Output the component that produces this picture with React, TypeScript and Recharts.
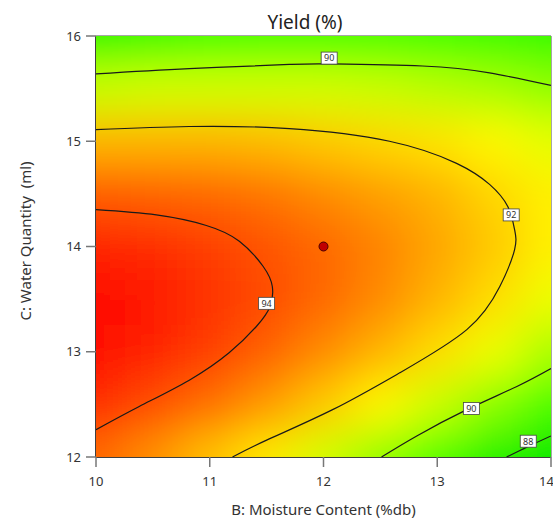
import React from 'react';
import { ComposedChart, XAxis, YAxis, Scatter, ReferenceLine } from 'recharts';

const FONT = '"Noto Sans", "DejaVu Sans", sans-serif';

// grid of the response surface (rows: C from 16 down to 12)
const B_VALUES = [10, 10.5, 11, 11.5, 12, 12.5, 13, 13.5, 14];
const C_VALUES = [16, 15.5, 15, 14.5, 14, 13.5, 13, 12.5, 12];
const YIELD_GRID = [
  [88.5, 88.7, 88.9, 89.0, 89.0, 89.0, 88.9, 88.8, 88.7],
  [90.7, 90.8, 90.8, 90.8, 90.8, 90.7, 90.5, 90.3, 90.0],
  [92.4, 92.4, 92.4, 92.3, 92.1, 91.9, 91.7, 91.4, 91.0],
  [93.7, 93.6, 93.5, 93.3, 93.0, 92.7, 92.4, 91.9, 91.5],
  [94.5, 94.4, 94.1, 93.8, 93.5, 93.1, 92.6, 92.1, 91.5],
  [94.9, 94.7, 94.3, 93.9, 93.5, 93.0, 92.4, 91.8, 91.1],
  [94.9, 94.5, 94.1, 93.6, 93.0, 92.4, 91.8, 91.1, 90.3],
  [94.4, 93.9, 93.4, 92.8, 92.1, 91.4, 90.7, 89.9, 89.0],
  [93.5, 92.9, 92.2, 91.6, 90.8, 90.0, 89.1, 88.2, 87.3],
];

// contour lines
const CONTOUR_94 = [
  { b: 10, c: 14.35 }, { b: 10.53, c: 14.3 }, { b: 10.97, c: 14.2 }, { b: 11.26, c: 14.05 },
  { b: 11.47, c: 13.81 }, { b: 11.55, c: 13.62 }, { b: 11.53, c: 13.43 }, { b: 11.41, c: 13.24 },
  { b: 11.17, c: 12.99 }, { b: 10.82, c: 12.73 }, { b: 10.38, c: 12.48 }, { b: 10, c: 12.26 },
];
const CONTOUR_92 = [
  { b: 10, c: 15.11 }, { b: 10.82, c: 15.14 }, { b: 11.7, c: 15.12 }, { b: 12.58, c: 15.0 },
  { b: 13.17, c: 14.79 }, { b: 13.46, c: 14.59 }, { b: 13.62, c: 14.38 }, { b: 13.68, c: 14.16 },
  { b: 13.68, c: 13.97 }, { b: 13.55, c: 13.62 }, { b: 13.26, c: 13.21 }, { b: 12.67, c: 12.8 },
  { b: 12.08, c: 12.45 }, { b: 11.5, c: 12.16 }, { b: 11.2, c: 12 },
];
const CONTOUR_90_TOP = [
  { b: 10, c: 15.64 }, { b: 10.82, c: 15.69 }, { b: 11.7, c: 15.73 }, { b: 12.05, c: 15.735 },
  { b: 12.87, c: 15.715 }, { b: 13.46, c: 15.65 }, { b: 14, c: 15.53 },
];
const CONTOUR_90_LOW = [
  { b: 12.51, c: 12 }, { b: 12.82, c: 12.2 }, { b: 13.26, c: 12.45 }, { b: 13.7, c: 12.67 }, { b: 14, c: 12.84 },
];
const CONTOUR_88 = [{ b: 13.61, c: 12 }, { b: 13.8, c: 12.1 }, { b: 14, c: 12.2 }];

const CONTOUR_LABELS = [
  { b: 12.05, c: 15.79, level: 90 },
  { b: 13.65, c: 14.3, level: 92 },
  { b: 11.5, c: 13.46, level: 94 },
  { b: 13.3, c: 12.46, level: 90 },
  { b: 13.8, c: 12.15, level: 88 },
];

const DESIGN_POINT = [{ b: 12, c: 14 }];

const B_TICKS = [10, 11, 12, 13, 14];
const C_TICKS = [12, 13, 14, 15, 16];

const PLOT = { left: 96, top: 36, width: 455, height: 421 };
const CELL_W = PLOT.width / 8;
const CELL_H = PLOT.height / 8;
const EXT = 70;

const heatData = C_VALUES.flatMap((c, i) => B_VALUES.map((b, j) => ({ b, c, y: YIELD_GRID[i][j] })));

// green -> yellow -> red
function yieldColor(v: number) {
  const lo = 87.7;
  const mid = 91.3;
  const hi = 95;
  let r = 255;
  let g = 255;
  if (v >= mid) {
    g = Math.round(255 * Math.max(0, Math.min(1, (hi - v) / (hi - mid))));
  } else {
    const t = Math.max(0, Math.min(1, (v - lo) / (mid - lo)));
    r = Math.round(255 * Math.pow(t, 1.3));
    g = Math.round(232 + 23 * Math.min(1, t * 3));
  }
  return `rgb(${r},${g},0)`;
}

const HeatCell = (props: any) => {
  const { cx, cy, payload } = props;
  let x0 = cx - CELL_W / 2;
  let x1 = cx + CELL_W / 2;
  let y0 = cy - CELL_H / 2;
  let y1 = cy + CELL_H / 2;
  if (payload.b === 10) x0 -= EXT;
  if (payload.b === 14) x1 += EXT;
  if (payload.c === 16) y0 -= EXT;
  if (payload.c === 12) y1 += EXT;
  return <rect x={x0} y={y0} width={x1 - x0 + 0.5} height={y1 - y0 + 0.5} fill={yieldColor(payload.y)} />;
};

const NoMark = () => <g />;

const LevelLabel = (props: any) => {
  const { cx, cy, payload } = props;
  return (
    <g>
      <rect x={cx - 8} y={cy - 6} width={16} height={12} fill="#fff" stroke="#444" strokeWidth={0.8} />
      <text x={cx} y={cy + 3.3} textAnchor="middle" fontSize={9} fontFamily={FONT} fill="#333">
        {payload.level}
      </text>
    </g>
  );
};

const PointDot = (props: any) => (
  <circle cx={props.cx} cy={props.cy} r={4.5} fill="#c00000" stroke="#4a0000" strokeWidth={1} />
);

const YTitle = () => (
  <text x={30.7} y={241} transform="rotate(-90 30.7 241)" textAnchor="middle" fontSize={15} fontFamily={FONT} fill="#333">
    C: Water Quantity {'\u00a0'}(ml)
  </text>
);

const contours = [CONTOUR_94, CONTOUR_92, CONTOUR_90_TOP, CONTOUR_90_LOW, CONTOUR_88];

export default function App() {
  return (
    <div style={{ position: 'relative', width: 553, height: 520, fontFamily: FONT }}>
      <style>{`body{margin:0} .heat-layer{filter:url(#heatBlur);clip-path:url(#plotClip);}`}</style>
      <svg width={0} height={0} style={{ position: 'absolute' }}>
        <defs>
          <filter id="heatBlur" filterUnits="userSpaceOnUse" x={-200} y={-200} width={1000} height={1000}>
            <feGaussianBlur stdDeviation={22} />
          </filter>
          <clipPath id="plotClip">
            <rect x={PLOT.left} y={PLOT.top} width={PLOT.width} height={PLOT.height} />
          </clipPath>
        </defs>
      </svg>
      <ComposedChart width={553} height={520} margin={{ top: 36, right: 2, left: 36, bottom: 33 }}>
        <XAxis
          type="number"
          dataKey="b"
          domain={[10, 14]}
          ticks={B_TICKS}
          allowDataOverflow
          height={30}
          tickSize={10}
          tickMargin={10}
          axisLine={{ stroke: '#000', strokeWidth: 1.5 }}
          tickLine={{ stroke: '#777', strokeWidth: 1.5 }}
          tick={{ fill: '#333', fontSize: 13, fontFamily: FONT }}
          label={{ value: 'B: Moisture Content (%db)', position: 'bottom', offset: 17, fill: '#333', fontSize: 15, fontFamily: FONT }}
        />
        <YAxis
          type="number"
          dataKey="c"
          domain={[12, 16]}
          ticks={C_TICKS}
          allowDataOverflow
          width={60}
          tickSize={10}
          tickMargin={5}
          axisLine={{ stroke: '#000', strokeWidth: 1.5 }}
          tickLine={{ stroke: '#777', strokeWidth: 1.5 }}
          tick={{ fill: '#333', fontSize: 13, fontFamily: FONT }}
          label={<YTitle />}
        />
        <Scatter data={heatData} className="heat-layer" shape={HeatCell} isAnimationActive={false} />
        <ReferenceLine y={16} stroke="#888" strokeWidth={1.5} />
        <ReferenceLine x={14} stroke="#888" strokeWidth={1.5} />
        {contours.map((d, i) => (
          <Scatter
            key={i}
            data={d}
            shape={NoMark}
            line={{ stroke: '#1a1a1a', strokeWidth: 1.2 }}
            lineType="joint"
            lineJointType="natural"
            isAnimationActive={false}
          />
        ))}
        <Scatter data={CONTOUR_LABELS} shape={LevelLabel} isAnimationActive={false} />
        <Scatter data={DESIGN_POINT} shape={PointDot} isAnimationActive={false} />
      </ComposedChart>
      <svg width={553} height={60} style={{ position: 'absolute', left: 0, top: 0, pointerEvents: 'none' }}>
        <text x={305} y={29} textAnchor="middle" fontSize={19} fontFamily={FONT} fill="#222">
          Yield (%)
        </text>
      </svg>
    </div>
  );
}
